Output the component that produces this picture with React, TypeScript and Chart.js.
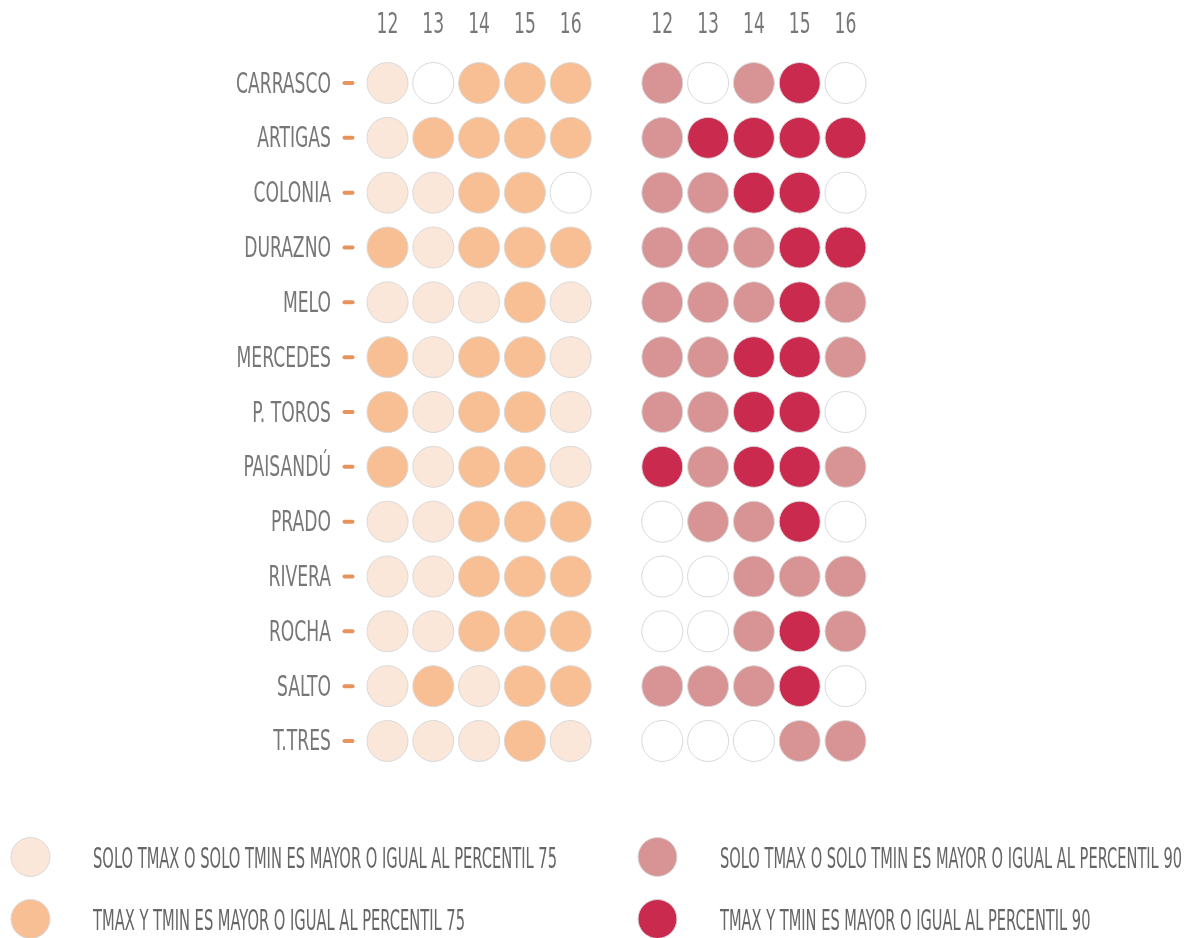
import React, { useEffect, useRef } from "react";
import { Chart, registerables } from "chart.js";

Chart.register(...registerables);

const stations = [
  "CARRASCO", "ARTIGAS", "COLONIA", "DURAZNO", "MELO", "MERCEDES", "P. TOROS",
  "PAISANDÚ", "PRADO", "RIVERA", "ROCHA", "SALTO", "T.TRES",
];
const days = ["12", "13", "14", "15", "16"];

// 0 = none, 1 = solo Tmax o solo Tmin >= P75, 2 = Tmax y Tmin >= P75
const p75Levels = [
  [1, 0, 2, 2, 2],
  [1, 2, 2, 2, 2],
  [1, 1, 2, 2, 0],
  [2, 1, 2, 2, 2],
  [1, 1, 1, 2, 1],
  [2, 1, 2, 2, 1],
  [2, 1, 2, 2, 1],
  [2, 1, 2, 2, 1],
  [1, 1, 2, 2, 2],
  [1, 1, 2, 2, 2],
  [1, 1, 2, 2, 2],
  [1, 2, 1, 2, 2],
  [1, 1, 1, 2, 1],
];
// 0 = none, 1 = solo Tmax o solo Tmin >= P90, 2 = Tmax y Tmin >= P90
const p90Levels = [
  [1, 0, 1, 2, 0],
  [1, 2, 2, 2, 2],
  [1, 1, 2, 2, 0],
  [1, 1, 1, 2, 2],
  [1, 1, 1, 2, 1],
  [1, 1, 2, 2, 1],
  [1, 1, 2, 2, 0],
  [2, 1, 2, 2, 1],
  [0, 1, 1, 2, 0],
  [0, 0, 1, 1, 1],
  [0, 0, 1, 2, 1],
  [1, 1, 1, 2, 0],
  [0, 0, 0, 1, 1],
];

const p75Colors = ["#ffffff", "#fae7d9", "#f7bf93"];
const p90Colors = ["#ffffff", "#d89494", "#c92a4e"];

const legendLabels = [
  "SOLO TMAX O SOLO TMIN ES MAYOR O IGUAL AL PERCENTIL 75",
  "TMAX Y TMIN ES MAYOR O IGUAL AL PERCENTIL 75",
  "SOLO TMAX O SOLO TMIN ES MAYOR O IGUAL AL PERCENTIL 90",
  "TMAX Y TMIN ES MAYOR O IGUAL AL PERCENTIL 90",
];
const legendColors = [p75Colors[1], p75Colors[2], p90Colors[1], p90Colors[2]];

const groupOffset = 6; // x index where the second group starts

const FONT = "'Liberation Sans Narrow', 'DejaVu Sans Condensed', 'Liberation Sans', sans-serif";

function drawScaled(
  ctx: CanvasRenderingContext2D,
  text: string,
  x: number,
  y: number,
  sx: number,
  align: CanvasTextAlign
) {
  ctx.save();
  ctx.translate(x, y);
  ctx.scale(sx, 1);
  ctx.textAlign = align;
  ctx.textBaseline = "alphabetic";
  ctx.fillText(text, 0, 0);
  ctx.restore();
}

const textPlugin = {
  id: "dotText",
  afterDraw(chart: any) {
    const ctx: CanvasRenderingContext2D = chart.ctx;
    const xs = chart.scales.x;
    const ys = chart.scales.y;
    ctx.save();
    ctx.font = `28px ${FONT}`;
    const sx = 95 / ctx.measureText("CARRASCO").width;

    // column headers
    ctx.fillStyle = "#777777";
    [0, groupOffset].forEach((off) => {
      days.forEach((d, i) => {
        drawScaled(ctx, d, xs.getPixelForValue(i + off), 33, sx, "center");
      });
    });

    // row labels and tick dashes
    const x0 = xs.getPixelForValue(0);
    stations.forEach((s, r) => {
      const y = ys.getPixelForValue(r);
      ctx.fillStyle = "#777777";
      drawScaled(ctx, s, x0 - 56.5, y + 9.5, sx, "right");
      ctx.strokeStyle = "#e8935c";
      ctx.lineWidth = 4;
      ctx.lineCap = "round";
      ctx.beginPath();
      ctx.moveTo(x0 - 43, y);
      ctx.lineTo(x0 - 35, y);
      ctx.stroke();
    });

    // legend
    const cols = [
      { cx: 30.5, tx: 93, w: 464 },
      { cx: 657.5, tx: 720, w: 462 },
    ];
    const rows = [{ cy: 857, base: 868 }, { cy: 919, base: 930 }];
    legendLabels.forEach((lab, i) => {
      const c = cols[Math.floor(i / 2)];
      const rr = rows[i % 2];
      ctx.beginPath();
      ctx.arc(c.cx, rr.cy, 19.5, 0, Math.PI * 2);
      ctx.fillStyle = legendColors[i];
      ctx.fill();
      ctx.lineWidth = 1;
      ctx.strokeStyle = "#d9d9d9";
      ctx.stroke();
      ctx.font = `28px ${FONT}`;
      const lsx = i % 2 === 0 ? c.w / ctx.measureText(lab).width : sx * 1.0;
      ctx.fillStyle = "#666666";
      drawScaled(ctx, lab, c.tx, rr.base, i % 2 === 0 ? lsx : (c.w / ctx.measureText(legendLabels[i - 1]).width), "left");
    });
    ctx.restore();
  },
};

export default function App() {
  const ref = useRef<HTMLCanvasElement>(null);

  useEffect(() => {
    document.body.style.margin = "0";
    const canvas = ref.current;
    if (!canvas) return;

    const p75Data: { x: number; y: number }[] = [];
    const p75Bg: string[] = [];
    const p90Data: { x: number; y: number }[] = [];
    const p90Bg: string[] = [];
    stations.forEach((_, r) => {
      days.forEach((_, c) => {
        p75Data.push({ x: c, y: r });
        p75Bg.push(p75Colors[p75Levels[r][c]]);
        p90Data.push({ x: c + groupOffset, y: r });
        p90Bg.push(p90Colors[p90Levels[r][c]]);
      });
    });

    const chart = new Chart(canvas, {
      type: "scatter",
      data: {
        datasets: [
          {
            label: "Percentil 75",
            data: p75Data,
            backgroundColor: p75Bg,
            borderColor: "#d9d9d9",
            borderWidth: 1,
            pointRadius: 20.5,
            pointHoverRadius: 20.5,
            clip: false as any,
          },
          {
            label: "Percentil 90",
            data: p90Data,
            backgroundColor: p90Bg,
            borderColor: "#d9d9d9",
            borderWidth: 1,
            pointRadius: 20.5,
            pointHoverRadius: 20.5,
            clip: false as any,
          },
        ],
      },
      options: {
        animation: false,
        responsive: false,
        events: [],
        layout: {
          padding: { left: 353.15, right: 312.15, top: 55.6, bottom: 169.6 },
        },
        scales: {
          x: { type: "linear", min: -0.75, max: 10.75, display: false },
          y: { type: "linear", min: -0.5, max: 12.5, reverse: true, display: false },
        },
        plugins: {
          legend: { display: false },
          tooltip: { enabled: false },
        },
      },
      plugins: [textPlugin],
    });
    return () => chart.destroy();
  }, []);

  return (
    <canvas
      ref={ref}
      width={1192}
      height={938}
      style={{ display: "block", width: 1192, height: 938 }}
    />
  );
}
